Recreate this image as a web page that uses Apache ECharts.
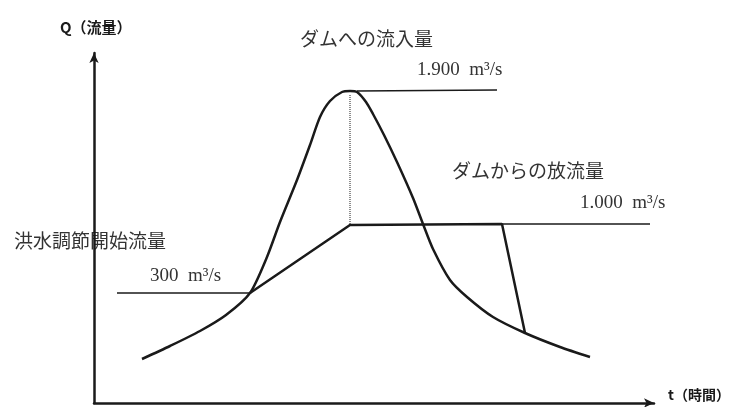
<!DOCTYPE html>
<html>
<head>
<meta charset="utf-8">
<script src="https://cdn.jsdelivr.net/npm/echarts@6/dist/echarts.min.js"></script>
<style>
  html, body { margin: 0; padding: 0; background: #fff; }
  #chart { width: 741px; height: 407px; }
</style>
</head>
<body>
<div id="chart"></div>
<script>
// schematic units (t and Q have no printed scale)
var inflowData = [
  [4.8, 4.4], [7.6, 5.7], [10.6, 7.2], [13.2, 8.8], [15.6, 11.0], [17.3, 14.6],
  [18.6, 18.1], [20.3, 22.3], [21.6, 25.8], [22.6, 28.6], [23.6, 30.2], [24.8, 31.1],
  [25.6, 31.2], [26.3, 31.1], [27.2, 30.1], [27.9, 28.9], [29.0, 26.8], [30.3, 24.1],
  [31.9, 20.5], [32.9, 17.9], [33.9, 15.4], [35.6, 12.3], [37.3, 10.6], [39.9, 8.6],
  [43.1, 7.0], [46.6, 5.6], [49.6, 4.6]
];
var outflowData = [[15.6, 11.0], [25.6, 17.8], [40.8, 17.9], [43.1, 7.0]];
var startLine = [[2.3, 11.0], [15.6, 11.0]];     // 洪水調節開始流量 300
var peakLine = [[26.3, 31.2], [40.3, 31.3]];     // 1,900
var releaseLine = [[40.8, 17.9], [55.6, 17.9]];  // 1,000
var peakDrop = [[25.6, 30.8], [25.6, 17.8]];

var labels = {
  yName: 'Q（流量）',
  xName: 't（時間）',
  inflow: 'ダムへの流入量',
  inflowPeak: '1.900  m³/s',
  outflow: 'ダムからの放流量',
  outflowMax: '1.000  m³/s',
  start: '洪水調節開始流量',
  startValue: '300  m³/s'
};

var chartDom = document.getElementById('chart');
var myChart = echarts.init(chartDom);
var ink = '#1a1a1a';
var jp = '"Noto Sans CJK JP", sans-serif';
var serif = '"Liberation Serif", "DejaVu Serif", serif';

function thinLine(data, width, type) {
  return {
    type: 'line', data: data, symbol: 'none', silent: true,
    lineStyle: { color: ink, width: width, type: type || 'solid' }
  };
}

var option = {
  animation: false,
  backgroundColor: '#fff',
  grid: { left: 94, right: 87, top: 53, bottom: 4 },
  xAxis: {
    type: 'value', min: 0, max: 56,
    splitLine: { show: false }, axisTick: { show: false }, axisLabel: { show: false },
    axisLine: { onZero: false, symbol: ['none', 'arrow'], symbolSize: [7, 10],
      lineStyle: { color: ink, width: 2.5 } }
  },
  yAxis: {
    type: 'value', min: 0, max: 35,
    splitLine: { show: false }, axisTick: { show: false }, axisLabel: { show: false },
    axisLine: { onZero: false, symbol: ['none', 'arrow'], symbolSize: [7, 10],
      lineStyle: { color: ink, width: 2.5 } }
  },
  series: [
    thinLine(startLine, 1.5),
    thinLine(peakLine, 1.5),
    thinLine(releaseLine, 1.5),
    thinLine(peakDrop, 1, 'dotted'),
    {
      type: 'line', data: inflowData, symbol: 'none', smooth: 0.25, silent: true,
      lineStyle: { color: ink, width: 2.5 }
    },
    {
      type: 'line', data: outflowData, symbol: 'none', silent: true,
      lineStyle: { color: ink, width: 2.5 }
    }
  ],
  graphic: [
    { type: 'text', left: 60, top: 20, style: { text: labels.yName, font: 'bold 15px ' + jp, fill: ink } },
    { type: 'text', left: 668, top: 388, style: { text: labels.xName, font: 'bold 14px ' + jp, fill: ink } },
    { type: 'text', left: 300, top: 29, style: { text: labels.inflow, font: '19px ' + jp, fill: '#333' } },
    { type: 'text', left: 417, top: 61, style: { text: labels.inflowPeak, font: '19px ' + serif, fill: '#333' } },
    { type: 'text', left: 452, top: 161, style: { text: labels.outflow, font: '19px ' + jp, fill: '#333' } },
    { type: 'text', left: 580, top: 194, style: { text: labels.outflowMax, font: '19px ' + serif, fill: '#333' } },
    { type: 'text', left: 14, top: 231, style: { text: labels.start, font: '19px ' + jp, fill: '#333' } },
    { type: 'text', left: 150, top: 267, style: { text: labels.startValue, font: '19px ' + serif, fill: '#333' } }
  ]
};

option && myChart.setOption(option);
</script>
</body>
</html>
